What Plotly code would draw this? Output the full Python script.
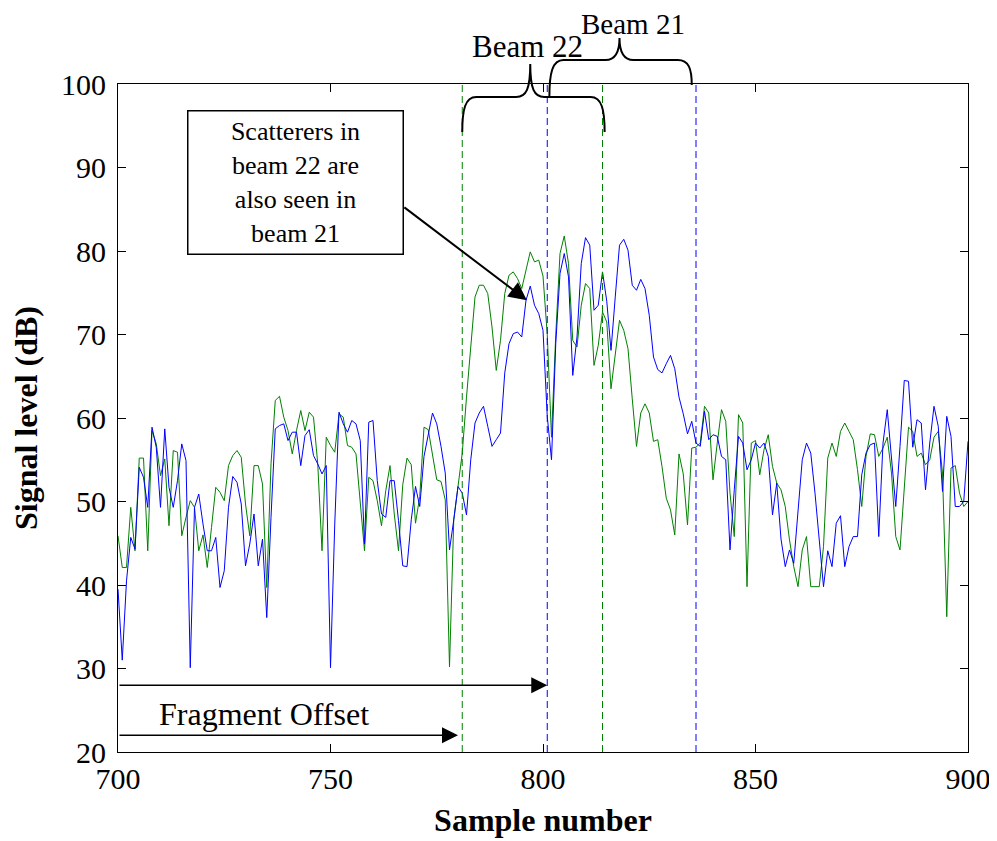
import plotly.graph_objects as go

# ---------------- data ----------------
samples = list(range(700, 901))

beam21 = [  # blue
    39.5, 31.0, 40.5, 45.7, 44.3, 54.1, 52.9, 49.3, 58.9, 56.5,
    49.3, 58.7, 51.7, 49.3, 52.5, 56.9, 54.9, 30.1, 49.3, 50.9,
    47.3, 44.1, 44.1, 45.7, 39.7, 41.7, 49.3, 53.0, 52.3, 49.7,
    42.3, 44.9, 48.5, 42.3, 45.5, 36.1, 48.1, 58.7, 59.1, 59.3,
    57.3, 58.3, 58.3, 54.3, 57.9, 58.6, 55.5, 54.5, 53.3, 54.3,
    30.1, 47.3, 60.7, 59.3, 58.3, 59.7, 59.3, 57.3, 44.9, 59.5,
    59.7, 52.5, 48.5, 48.1, 52.5, 52.5, 47.7, 42.3, 42.2, 47.8,
    51.8, 49.4, 55.4, 58.1, 60.6, 59.3, 56.6, 53.4, 44.2, 47.8,
    51.8, 51.0, 48.4, 55.0, 59.4, 60.6, 61.4, 59.0, 56.6, 57.4,
    58.2, 65.4, 68.9, 70.1, 70.3, 69.7, 74.1, 75.8, 73.5, 72.5,
    70.5, 60.2, 55.0, 68.9, 77.3, 79.7, 76.9, 65.1, 69.7, 78.5,
    81.6, 80.7, 72.9, 73.5, 77.5, 74.0, 68.1, 74.5, 80.7, 81.4,
    80.1, 75.9, 75.3, 76.6, 75.5, 72.3, 67.3, 65.8, 65.4, 66.5,
    67.5, 65.9, 62.5, 60.5, 58.1, 59.6, 57.0, 56.6, 60.8, 57.4,
    58.0, 57.8, 55.4, 55.0, 44.2, 51.4, 57.8, 57.0, 53.8, 55.0,
    57.0, 56.4, 57.0, 55.4, 48.4, 52.2, 45.5, 42.2, 44.2, 42.6,
    48.6, 55.0, 57.0, 55.8, 51.0, 45.4, 39.8, 44.1, 42.2, 47.4,
    48.3, 42.2, 44.6, 45.8, 45.8, 53.2, 55.8, 56.8, 57.0, 45.8,
    57.0, 61.0, 55.0, 49.4, 56.6, 64.5, 64.4, 56.5, 59.8, 59.4,
    51.4, 57.0, 61.4, 59.0, 51.2, 60.2, 57.8, 49.4, 49.4, 50.0,
    57.2,
]

beam22 = [  # green
    45.9, 42.1, 42.1, 49.3, 44.1, 55.2, 55.2, 44.1, 58.5, 56.9,
    53.1, 55.1, 47.1, 56.1, 55.9, 45.9, 48.1, 50.1, 49.3, 44.1,
    46.0, 42.1, 46.9, 51.7, 51.1, 50.1, 54.3, 55.5, 56.1, 55.3,
    49.7, 45.9, 54.3, 54.3, 52.1, 39.7, 54.5, 62.1, 62.6, 60.1,
    58.5, 55.7, 58.5, 60.9, 58.5, 60.7, 60.1, 54.5, 44.1, 57.7,
    56.7, 55.9, 60.5, 60.1, 56.7, 56.5, 55.7, 50.0, 44.1, 52.9,
    52.5, 50.1, 47.1, 51.3, 54.3, 48.5, 44.1, 52.0, 55.2, 54.4,
    47.4, 50.6, 58.9, 58.6, 55.8, 52.6, 52.4, 50.2, 30.2, 47.8,
    51.8, 55.8, 62.5, 68.5, 74.5, 75.9, 75.9, 74.9, 70.9, 65.7,
    69.3, 74.9, 77.1, 77.5, 76.7, 75.5, 77.9, 79.9, 78.7, 78.9,
    77.0, 70.0, 57.7, 70.0, 79.7, 81.8, 78.5, 69.3, 68.5, 73.5,
    76.1, 75.5, 66.3, 68.7, 72.7, 71.5, 63.5, 67.7, 71.7, 70.5,
    68.3, 62.3, 56.6, 60.6, 61.7, 60.6, 57.2, 57.4, 54.2, 50.4,
    49.0, 46.0, 55.7, 53.3, 47.2, 56.4, 56.5, 57.0, 61.4, 60.6,
    52.6, 57.0, 61.0, 59.6, 51.0, 45.8, 60.4, 59.4, 39.8, 57.0,
    57.3, 53.2, 56.2, 58.0, 54.2, 52.2, 51.4, 49.4, 45.4, 42.2,
    39.8, 44.2, 45.8, 39.8, 39.8, 39.8, 44.6, 55.2, 57.0, 55.4,
    58.4, 59.4, 58.4, 57.4, 53.8, 49.4, 55.4, 58.1, 58.0, 55.4,
    56.4, 57.7, 53.4, 45.8, 44.2, 52.2, 58.9, 58.4, 55.4, 55.8,
    54.4, 55.0, 57.7, 58.4, 53.4, 36.2, 54.0, 54.3, 51.0, 49.4,
    50.0,
]

beam22_edges = [781, 814]   # green dashed
beam21_edges = [801, 836]   # blue dashed
x_ticks = [700, 750, 800, 850, 900]
y_ticks = [20, 30, 40, 50, 60, 70, 80, 90, 100]
offset_b22 = 780
offset_b21 = 801

GREEN = "rgb(0,128,0)"
BLUE = "rgb(0,0,255)"
FONT = "Liberation Serif, Times New Roman, serif"

# ---------------- layout geometry ----------------
OFF = 8                      # default body margin of the html page
PL, PT, PW, PH = 118, 84, 850, 668   # plot area in page pixels
PB = PT + PH
W = 997 - OFF
H = 841 - OFF
ML, MT = PL - OFF, PT - OFF
MR = W - ML - PW
MB = H - MT - PH
X0, X1 = 700, 900


def px_x(s):
    return PL + (s - X0) / (X1 - X0) * PW


def to_paper(xp, yp):
    return (xp - PL) / PW, (PB - yp) / PH


def brace_path(s_left, s_right, s_tip, y_end_l, y_end_r, y_bar, y_tip):
    xl, xr, xt = px_x(s_left), px_x(s_right), px_x(s_tip)
    r = 14
    pts = [
        ("M", [(xl, y_end_l)]),
        ("C", [(xl, y_bar + (y_end_l - y_bar) * 0.35), (xl + 3, y_bar), (xl + r, y_bar)]),
        ("L", [(xt - r, y_bar)]),
        ("C", [(xt - 4, y_bar), (xt, y_bar - 8), (xt, y_tip)]),
        ("C", [(xt, y_bar - 8), (xt + 4, y_bar), (xt + r, y_bar)]),
        ("L", [(xr - r, y_bar)]),
        ("C", [(xr - 3, y_bar), (xr, y_bar + (y_end_r - y_bar) * 0.35), (xr, y_end_r)]),
    ]
    out = []
    for cmd, plist in pts:
        coords = []
        for (a, b) in plist:
            pa, pb = to_paper(a, b)
            coords.append(f"{pa:.5f},{pb:.5f}")
        out.append(cmd + " " + " ".join(coords))
    return " ".join(out)


fig = go.Figure()
fig.add_trace(go.Scatter(x=samples, y=beam22, mode="lines",
                         line=dict(color=GREEN, width=1), name="Beam 22",
                         showlegend=False))
fig.add_trace(go.Scatter(x=samples, y=beam21, mode="lines",
                         line=dict(color=BLUE, width=1), name="Beam 21",
                         showlegend=False))

shapes = []
for s in beam22_edges:
    shapes.append(dict(type="line", xref="x", yref="paper", x0=s, x1=s, y0=0, y1=1,
                       line=dict(color=GREEN, width=1, dash="7px,4px")))
for s in beam21_edges:
    shapes.append(dict(type="line", xref="x", yref="paper", x0=s, x1=s, y0=0, y1=1,
                       line=dict(color=BLUE, width=1, dash="7px,4px")))

shapes.append(dict(type="path", xref="paper", yref="paper",
                   path=brace_path(beam22_edges[0], beam22_edges[1] + 0.5, 797,
                                   132, 132, 97, 64),
                   line=dict(color="black", width=2)))
shapes.append(dict(type="path", xref="paper", yref="paper",
                   path=brace_path(beam21_edges[0] + 0.5, 835, 818,
                                   97, 85, 60, 38),
                   line=dict(color="black", width=2)))

annotations = []
bx, by = to_paper(527, 47)
annotations.append(dict(text="Beam 22", x=bx, y=by, xref="paper", yref="paper",
                        showarrow=False, font=dict(family=FONT, size=31, color="black"),
                        xanchor="center", yanchor="middle"))
bx, by = to_paper(633, 24)
annotations.append(dict(text="Beam 21", x=bx, y=by, xref="paper", yref="paper",
                        showarrow=False, font=dict(family=FONT, size=29, color="black"),
                        xanchor="center", yanchor="middle"))
tx, ty = to_paper(295, 182)
annotations.append(dict(text="Scatterers in<br>beam 22 are<br>also seen in<br>beam 21",
                        x=tx, y=ty, xref="paper", yref="paper", showarrow=False,
                        font=dict(family=FONT, size=26, color="black"),
                        align="center", xanchor="center", yanchor="middle",
                        bordercolor="black", borderwidth=1.5, borderpad=3,
                        bgcolor="white", width=208, height=136))
annotations.append(dict(text="", x=796.2, y=74.1, xref="x", yref="y",
                        ax=-124, ay=-94, showarrow=True, arrowhead=2,
                        arrowsize=1.8, arrowwidth=2, arrowcolor="black"))
annotations.append(dict(text="", x=offset_b21, y=28, xref="x", yref="y",
                        ax=700, ay=28, axref="x", ayref="y", showarrow=True,
                        arrowhead=2, arrowsize=2, arrowwidth=1.6, arrowcolor="black"))
annotations.append(dict(text="", x=offset_b22, y=22, xref="x", yref="y",
                        ax=700, ay=22, axref="x", ayref="y", showarrow=True,
                        arrowhead=2, arrowsize=2, arrowwidth=1.6, arrowcolor="black"))
fx, fy = to_paper(264, 714)
annotations.append(dict(text="Fragment Offset", x=fx, y=fy, xref="paper", yref="paper",
                        showarrow=False, font=dict(family=FONT, size=32, color="black"),
                        xanchor="center", yanchor="middle"))

fig.update_layout(
    width=W, height=H,
    margin=dict(l=ML, r=MR, t=MT, b=MB, pad=0, autoexpand=False),
    paper_bgcolor="white", plot_bgcolor="white",
    shapes=shapes, annotations=annotations,
    font=dict(family=FONT, color="black"),
)
fig.update_xaxes(range=[X0, X1], tickvals=x_ticks, ticktext=[str(v) for v in x_ticks],
                 ticks="inside", ticklen=8, tickcolor="black", tickwidth=1,
                 showline=True, linecolor="black", linewidth=1, mirror="ticks",
                 showgrid=False, zeroline=False, automargin=False,
                 tickfont=dict(family=FONT, size=30, color="black"),
                 title=dict(text="<b>Sample number</b>",
                            font=dict(family=FONT, size=32, color="black"), standoff=14))
fig.update_yaxes(range=[20, 100], tickvals=y_ticks, ticktext=[str(v) for v in y_ticks],
                 ticks="inside", ticklen=8, tickcolor="black", tickwidth=1,
                 showline=True, linecolor="black", linewidth=1, mirror="ticks",
                 showgrid=False, zeroline=False, automargin=False,
                 ticklabelstandoff=5,
                 tickfont=dict(family=FONT, size=30, color="black"),
                 title=dict(text="<b>Signal level (dB)</b>",
                            font=dict(family=FONT, size=32, color="black"), standoff=14))

fig.write_html("out.html")
